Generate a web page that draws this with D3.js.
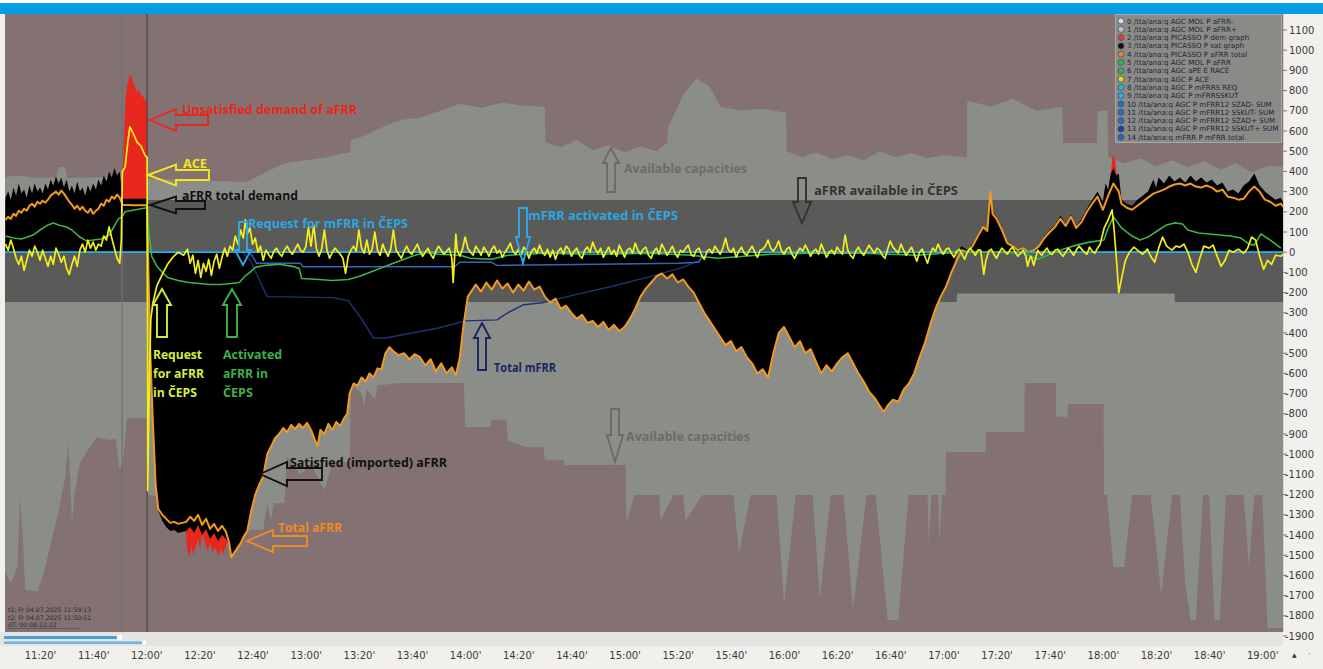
<!DOCTYPE html>
<html><head><meta charset="utf-8">
<script src="https://cdn.jsdelivr.net/npm/d3@7"></script>
<style>html,body{margin:0;padding:0;background:#f1f0ec;}svg{display:block;}</style>
</head><body>
<svg id="chart" width="1323" height="669"></svg>
<script>
// ---------------- DATA (time = minutes after 11:00, 04.07.2025) ----------------
const xTickLabels = ["11:20","11:40","12:00","12:20","12:40","13:00","13:20","13:40","14:00","14:20","14:40","15:00","15:20","15:40","16:00","16:20","16:40","17:00","17:20","17:40","18:00","18:20","18:40","19:00"];
const yTickValues = [1100,1000,900,800,700,600,500,400,300,200,100,0,-100,-200,-300,-400,-500,-600,-700,-800,-900,-1000,-1100,-1200,-1300,-1400,-1500,-1600,-1700,-1800,-1900];
const cursorTimes = [50.9, 60.3];

// available capacities (upper / lower envelope)
const capacityUp = [[6.8,372],[12,380],[18,368],[26,368],[27,422],[29.5,422],[30.2,367],[45,372],[60.3,365],[80,355],[98,348],[105.5,400],[112,440],[120,455],[128,470],[134,490],[136.8,495],[137,555],[143,580],[149,620],[155.6,654],[163,665],[170.7,700],[178,735],[186,715],[194,740],[202,725],[210,720],[210.2,545],[216,520],[222,555],[228,505],[234,530],[240,495],[246,525],[252,500],[256,540],[256.5,620],[262,780],[267,860],[272,820],[276,720],[284,700],[292,710],[300.8,690],[301,500],[307,470],[312,495],[318,460],[324,480],[330,455],[336,500],[342,470],[348,490],[354,465],[360,480],[368.8,470],[369,750],[378,720],[386,760],[395,700],[404.8,720],[405,540],[417.8,540],[418,700],[421.8,700],[422,470],[428,440],[434,465],[440,425],[446,455],[452,420],[458,450],[464.4,410],[470,440],[476,395],[482,425],[488,425]];
const capacityDown = [[6.8,-1580],[9,-1640],[11.5,-1560],[12.5,-1212],[13.5,-1400],[14.4,-1672],[19,-1680],[21.1,-1600],[24,-1450],[27,-1280],[29.5,-1113],[30.5,-945],[31.3,-1100],[32,-1341],[33,-1200],[35,-1043],[38,-980],[41.5,-915],[46,-930],[48.5,-925],[50,-1078],[51.5,-1000],[52.8,-821],[60.3,-821],[60.4,-1200],[97,-1300],[98,-1375],[104,-1375],[105.5,-1243],[107,-1330],[108,-1243],[112,-1243],[113,-1013],[118,-1100],[122,-1050],[127,-1178],[130,-1040],[136.5,-1040],[137,-647],[141,-700],[142,-760],[143,-680],[146,-730],[147,-660],[155.6,-647],[179.5,-647],[180,-865],[189.5,-865],[190,-830],[195.5,-830],[196,-930],[203,-965],[209.5,-965],[210,-1030],[217,-1030],[217.4,-1053],[240.4,-1053],[240.7,-1341],[243.7,-1202],[253,-1202],[253.5,-1327],[258.4,-1202],[262,-1202],[263,-1327],[269.3,-1202],[281,-1202],[283,-1490],[287.4,-1202],[297.2,-1202],[300,-1737],[304.4,-1202],[310.8,-1202],[313.5,-1720],[317.6,-1202],[322.4,-1202],[326,-1771],[331,-1202],[334.5,-1202],[339,-1821],[343,-1821],[346.9,-1202],[354,-1202],[354.5,-1441],[355.5,-1202],[358,-1202],[358.5,-1426],[359.5,-1202],[360.8,-1202],[360.9,-989],[375.9,-989],[376,-890],[390.5,-890],[390.6,-647],[402.3,-647],[402.4,-815],[406.7,-815],[406.8,-751],[420.3,-751],[420.4,-1202],[421.5,-1202],[424,-1558],[428,-1558],[431,-1202],[438,-1202],[442,-1700],[446,-1202],[449,-1202],[451,-1640],[453,-1821],[455,-1821],[457.7,-1202],[460,-1202],[462,-1821],[464,-1821],[466.3,-1202],[473,-1202],[475,-1560],[477,-1202],[480,-1202],[482,-1860],[488,-1860]];
// aFRR available in CEPS band: [time, bottom, top]
const bandRows = [[6.8,-246,258],[365,-246,258],[365.1,-205,258],[447,-205,258],[447.1,-246,258],[488,-246,258]];

// PICASSO dem graph (unsatisfied demand, visible parts)
const demandSpike1200 = [[50.9,265],[51.4,500],[52.2,760],[52.9,830],[53.9,880],[54.5,870],[55,845],[55.8,820],[56.5,790],[57.3,805],[58,780],[58.8,770],[59.5,760],[60.3,740]];
const demandDip1220 = [[74.8,-1380],[75.5,-1480],[76.3,-1510],[77,-1450],[77.6,-1500],[78.5,-1460],[79.5,-1420],[80.3,-1470],[81,-1400],[82,-1430],[83,-1480],[84,-1440],[85,-1485],[86,-1460],[87,-1505],[88,-1470],[89,-1495],[90,-1450],[91,-1420],[91.8,-1460]];
const demandSpike1804 = [[423,390],[423.6,470],[424.2,480],[424.8,440],[425.2,380]];

// PICASSO sat graph (satisfied aFRR)
const satGraph = [[7,270],[8,300],[9,260],[10,320],[11,280],[12,340],[13,290],[14,310],[15,270],[16,330],[17,290],[18,340],[19,300],[20,320],[21,290],[22,340],[23,310],[24,360],[25,330],[26,375],[27,340],[28,370],[29,320],[30,360],[31,300],[32,330],[33,290],[34,350],[35,300],[36,320],[37,280],[38,330],[39,300],[40,340],[41,310],[42,360],[43,330],[44,380],[45,350],[46,400],[47,370],[48,415],[49,380],[50,400],[50.8,300],[51,265],[60.3,265],
[60.8,-100],[61.5,-500],[62.5,-850],[63.5,-1150],[64.5,-1280],[66,-1330],[67.5,-1360],[69,-1380],[70.5,-1375],[72,-1390],[73.5,-1385],[75,-1380],[76.5,-1360],[78,-1390],[79.5,-1350],[81,-1400],[82.5,-1370],[84,-1420],[85.5,-1390],[87,-1430],[88.5,-1400],[90,-1420],[91.2,-1450],[92,-1500],[93,-1480],
[94,-1470],[95.5,-1440],[97,-1400],[98,-1380],[99.5,-1280],[101,-1200],[102.5,-1150],[104,-1110],[105.5,-1000],[107,-960],[108.5,-920],[110,-900],[111.5,-870],[113,-890],[114.5,-855],[116,-875],[117.5,-850],[119,-870],[120.5,-845],[122,-880],[123.5,-930],[124.5,-960],[125.5,-880],[127,-900],[128.5,-850],[130,-880],[131.5,-840],[133,-860],[134.5,-820],[135.6,-800],[136.5,-700],[138,-650],[139.5,-660],[141,-620],[142.5,-640],[144,-600],[145.5,-620],[147,-575],[148.5,-580],[150,-500],[151.5,-470],[153,-490],[155,-510],[157,-500],[159,-530],[161,-505],[163,-520],[165,-560],[167,-530],[169,-590],[171,-550],[173,-600],[175,-570],[176.5,-610],[178,-520],[179.5,-350],[181,-220],[182.5,-190],[184,-160],[186,-195],[188,-150],[190,-185],[192,-140],[194,-180],[196,-155],[198,-200],[200,-160],[202,-190],[204,-145],[206,-185],[208,-170],[210,-220],[212,-250],[214,-230],[216,-280],[218,-265],[220,-300],[222,-330],[224,-310],[226,-350],[228,-340],[230,-370],[232,-345],[234,-385],[236,-360],[238,-390],[240,-370],[242,-330],[244,-280],[246,-220],[248,-180],[250,-150],[252,-120],[254,-105],[256,-130],[258,-110],[260,-150],[262,-135],[264,-170],[266,-200],[268,-250],[270,-300],[272,-340],[274,-380],[276,-420],[278,-460],[280,-440],[282,-490],[284,-470],[286,-520],[288,-550],[290,-600],[292,-580],[294,-620],[296,-500],[298,-400],[300,-370],[302,-420],[304,-470],[306,-440],[308,-500],[310,-480],[312,-540],[314,-600],[316,-560],[318,-590],[320,-550],[322,-520],[324,-500],[326,-550],[328,-600],[330,-640],[332,-690],[334,-720],[336,-760],[337.5,-790],[339,-760],[341,-730],[343,-740],[345,-680],[347,-650],[349,-600],[351,-520],[353,-450],[355,-360],[357,-280],[359,-220],[361,-170],[363,-100],[364.5,-40],
[365,10],[367,30],[369,10],[371,40],[373,90],[375,130],[376.5,110],[377.7,310],[378.5,200],[380,175],[382,120],[384,50],[386,35],[388,15],[390,25],[392,5],[394,15],[396,35],[398,80],[400,110],[402,135],[404,180],[406,140],[408,185],[410,130],[412,165],[414,215],[416,260],[418,300],[420,250],[421,340],[422,310],[423,390],[424,415],[425,380],[426,390],[427,260],[429,240],[431,230],[433,260],[435,280],[437,300],[439,360],[440,320],[441,370],[443,340],[445,380],[447,350],[449,370],[451,345],[453,380],[455,350],[457,370],[459,345],[461,360],[463,330],[465,345],[467,300],[469,310],[471,290],[473,330],[475,350],[477,390],[479,330],[481,300],[483,280],[485,260],[487,270],[488,240]];

// PICASSO aFRR total
const aFRRTotal = [[7,160],[8,175],[9,165],[10,190],[11,180],[12,205],[13,195],[14,215],[15,205],[16,230],[17,240],[18,225],[19,250],[20,240],[21,255],[22,245],[23,260],[24,280],[25,290],[26,300],[27,285],[28,305],[29,290],[30,270],[31,250],[32,235],[33,215],[34,230],[35,210],[36,225],[37,205],[38,195],[39,215],[40,190],[41,205],[42,215],[43,240],[44,230],[45,260],[46,250],[47,275],[48,265],[49,285],[50,270],[51,235],[55,232],[60.3,233],
[60.8,-100],[61.5,-500],[62.5,-850],[63.5,-1150],[64.5,-1270],[66,-1300],[67.5,-1320],[69,-1340],[70.5,-1335],[72,-1345],[73.5,-1340],[75,-1335],[76.5,-1310],[78,-1330],[79.5,-1300],[81,-1350],[82.5,-1320],[84,-1370],[85.5,-1345],[87,-1380],[88.5,-1355],[90,-1385],[91.2,-1440],[92,-1510],[93,-1490],
[94,-1470],[95.5,-1440],[97,-1400],[98,-1380],[99.5,-1280],[101,-1200],[102.5,-1150],[104,-1110],[105.5,-1000],[107,-960],[108.5,-920],[110,-900],[111.5,-870],[113,-890],[114.5,-855],[116,-875],[117.5,-850],[119,-870],[120.5,-845],[122,-880],[123.5,-930],[124.5,-960],[125.5,-880],[127,-900],[128.5,-850],[130,-880],[131.5,-840],[133,-860],[134.5,-820],[135.6,-800],[136.5,-700],[138,-650],[139.5,-660],[141,-620],[142.5,-640],[144,-600],[145.5,-620],[147,-575],[148.5,-580],[150,-500],[151.5,-470],[153,-490],[155,-510],[157,-500],[159,-530],[161,-505],[163,-520],[165,-560],[167,-530],[169,-590],[171,-550],[173,-600],[175,-570],[176.5,-610],[178,-520],[179.5,-350],[181,-220],[182.5,-190],[184,-160],[186,-195],[188,-150],[190,-185],[192,-140],[194,-180],[196,-155],[198,-200],[200,-160],[202,-190],[204,-145],[206,-185],[208,-170],[210,-220],[212,-250],[214,-230],[216,-280],[218,-265],[220,-300],[222,-330],[224,-310],[226,-350],[228,-340],[230,-370],[232,-345],[234,-385],[236,-360],[238,-390],[240,-370],[242,-330],[244,-280],[246,-220],[248,-180],[250,-150],[252,-120],[254,-105],[256,-130],[258,-110],[260,-150],[262,-135],[264,-170],[266,-200],[268,-250],[270,-300],[272,-340],[274,-380],[276,-420],[278,-460],[280,-440],[282,-490],[284,-470],[286,-520],[288,-550],[290,-600],[292,-580],[294,-620],[296,-500],[298,-400],[300,-370],[302,-420],[304,-470],[306,-440],[308,-500],[310,-480],[312,-540],[314,-600],[316,-560],[318,-590],[320,-550],[322,-520],[324,-500],[326,-550],[328,-600],[330,-640],[332,-690],[334,-720],[336,-760],[337.5,-790],[339,-760],[341,-730],[343,-740],[345,-680],[347,-650],[349,-600],[351,-520],[353,-450],[355,-360],[357,-280],[359,-220],[361,-170],[363,-100],[365,-40],
[367,10],[369,0],[371,30],[373,80],[375,125],[376.5,105],[377.7,300],[378.5,190],[380,165],[382,110],[384,45],[386,30],[388,10],[390,20],[392,0],[394,10],[396,30],[398,70],[400,100],[402,125],[404,165],[406,130],[408,175],[410,120],[412,150],[414,200],[416,240],[418,275],[420,210],[422,280],[424,340],[426,300],[427,240],[429,220],[431,210],[433,230],[435,250],[437,270],[439,290],[441,300],[443,310],[445,325],[447,335],[449,340],[451,330],[453,340],[455,325],[457,320],[459,330],[461,320],[463,300],[465,310],[467,275],[469,270],[471,260],[473,265],[475,300],[477,325],[479,300],[481,260],[483,250],[485,230],[487,240],[488,225]];

// AGC MOL P aFRR (activated aFRR in CEPS)
const aFRRActivated = [[7,80],[10,70],[13,65],[17.4,85],[20,110],[23,135],[25,145],[27,135],[30,125],[32,110],[35,75],[37.7,55],[40,60],[43,65],[46,85],[48,130],[49.5,165],[50.9,175],[52,200],[58,215],[60.3,220],[61,100],[62,-20],[64,-70],[66,-100],[68,-125],[72,-140],[76,-150],[80,-155],[84,-160],[88,-160],[92,-155],[95,-150],[97,-120],[99,-100],[101,-75],[105,-65],[110,-60],[115,-70],[117.5,-80],[118.5,-130],[125,-135],[130,-140],[136,-135],[140,-120],[145,-95],[149,-75],[155,-45],[160,-20],[165,0],[170,-10],[178,-15],[182,-30],[190,-35],[196,-15],[210,-5],[230,-10],[250,-5],[265,-15],[275,-30],[285,-20],[295,-10],[310,-5],[330,-5],[340,-10],[350,-15],[360,-5],[370,0],[380,0],[390,-5],[395.5,-35],[400,-10],[405,15],[410,35],[415,50],[420.4,60],[422,120],[424,175],[427,120],[431,80],[434,60],[437,75],[441,110],[444,135],[447,145],[450,140],[452,110],[456,95],[460,90],[464,85],[468,80],[472,70],[475,40],[477,35],[479.5,90],[483,60],[487,20]];

// AGC P ACE
const ace = [[7,40],[8,10],[9,60],[10,20],[11,-30],[12,-60],[13,-20],[14,-90],[15,-40],[16,10],[17,-20],[18,30],[19,0],[20,-40],[21,10],[22,-30],[23,-70],[24,-20],[25,-60],[26,20],[27,-10],[28,-50],[29,-20],[30,-80],[31,-110],[32,-60],[33,-20],[34,-70],[35,10],[36,40],[37,0],[38,60],[39,20],[40,50],[41,10],[42,40],[43,30],[44,80],[45,60],[46,125],[47,70],[48,20],[49,-30],[50,-55],[50.6,60],[51,400],[52,420],[53,540],[53.8,620],[55,590],[56.5,545],[58,525],[59.5,480],[60.3,470],[60.5,-1180],[61.2,-600],[61.7,-330],[62.5,-250],[64,-165],[66,-110],[68,-60],[70,-25],[72,0],[74,-15],[75.5,15],[76.5,-55],[77.5,-15],[78.5,-105],[79.5,-40],[80.5,-125],[81.5,-55],[82.5,-95],[83.5,-35],[84.5,-115],[85.5,-45],[86.5,-10],[87.5,-80],[88.5,-25],[89.5,20],[90.5,-20],[91.5,30],[92.5,10],[93.5,80],[94.5,40],[95.5,110],[96.5,70],[97.3,160],[98,90],[99,120],[100,40],[101,70],[102,0],[103,30],
[104,-40],[105,10],[106,-10],[107,-30],[108,5],[109,20],[110,-5],[111,-20],[112,10],[113,30],[114,5],[115,-10],[116,15],[117,40],[118,10],[119,0],[120,25],[121,120],[122,30],[123,135],[124,20],[125,-20],[126,15],[127,110],[128,10],[129,-30],[130,0],[131,20],[132,5],[133,-10],[134,-30],[135,-105],[136,-20],[137,10],[138,30],[139,5],[140,110],[141,20],[142,-5],[143,60],[144,-10],[145,15],[146,100],[147,10],[148,-15],[149,40],[150,5],[151,-20],[152,15],[153,110],[154,10],[155,-10],[156,-30],[157,5],[158,30],[159,0],[160,-10],[161,15],[162,40],[163,5],[164,-20],[165,0],[166,20],[167,-10],[168,-30],[169,5],[170,30],[171,10],[172,-10],[173,5],[174,20],[175,-30],[175.5,-150],[176.5,90],[177,10],[178,-20],[179,15],[180,75],[181,20],[182,0],[183,-15],[184,30],
[185,10],[186,-15],[187,25],[188,5],[189,-20],[190,15],[191,30],[192,-5],[193,10],[194,-25],[195,0],[196,20],[197,45],[198,5],[199,-10],[200,15],[201,-20],[202,25],[203,10],[204,-30],[205,5],[206,20],[207,-5],[208,35],[209,0],[210,-15],[211,15],[212,-25],[213,10],[214,-35],[215,5],[216,20],[217,-10],[218,30],[219,15],[220,-20],[221,5],[222,20],[223,-15],[224,-30],[225,10],[226,25],[227,0],[228,50],[229,15],[230,-5],[231,20],[232,-25],[233,0],[234,25],[235,-10],[236,10],[237,-20],[238,35],[239,5],[240,-25],[241,10],[242,20],[243,-5],[244,45],[245,10],[246,-10],[247,15],[248,25],[249,-15],[250,-30],[251,5],[252,20],[253,-10],[254,40],[255,15],[256,-15],[257,5],[258,30],[259,-5],[260,-25],[261,10],[262,0],[263,20],[264,35],[265,-10],[266,-20],[267,10],[268,20],[269,-15],[270,-35],[271,5],[272,15],[273,-5],[274,30],[275,10],[276,-10],[277,20],[278,70],[279,15],[280,0],[281,20],[282,-25],[283,5],[284,25],[285,-5],[286,-15],[287,10],[288,30],[289,0],[290,-25],[291,10],[292,15],[293,30],[294,60],[295,20],[296,5],[297,25],[298,55],[299,10],[300,-10],[301,15],[302,25],[303,-10],[304,-30],[305,0],[306,20],[307,5],[308,35],[309,10],[310,-20],[311,5],[312,15],[313,-10],[314,40],[315,10],[316,-25],[317,0],[318,10],[319,-10],[320,25],[321,5],[322,-10],[323,85],[324,10],[325,-15],[326,-30],[327,5],[328,25],[329,0],[330,-15],[331,10],[332,35],[333,15],[334,-5],[335,20],[336,10],[337,-15],[338,-30],[339,15],[340,55],[341,25],[342,10],[343,-5],[344,40],[345,10],[346,-15],[347,5],[348,25],[349,-10],[350,-45],[351,0],[352,15],[353,-20],[354,-55],[355,-10],[356,20],[357,5],[358,40],[359,10],
[360,-10],[361,15],[362,20],[363,-5],[364,-25],[365,5],[366,15],[367,-10],[368,-35],[369,0],[370,20],[371,5],[372,-15],[373,10],[374,10],[375.2,-110],[376,-40],[376.5,-20],[377,5],[378,15],[379,-10],[380,-30],[381,0],[382,20],[383,5],[384,-10],[385,10],[386,25],[387,0],[388,-20],[389,-5],[390,10],[391,-20],[391.7,-70],[392.5,-30],[393,-20],[394,-65],[395,-15],[395.5,10],[396,0],[397,-15],[398,5],[399,20],[400,-5],[401,-10],[402,10],[403,15],[404,-5],[405,-20],[406,0],[407,20],[408,5],[409,-15],[410,10],[411,30],[412,15],[413,0],[414,-10],[415,25],[416,5],[417,-5],[418,20],[419,40],
[420.5,120],[422,160],[423.5,210],[424.3,100],[425.2,-50],[426,-200],[427.2,-120],[428.5,-40],[430,0],[431.7,25],[433,10],[435,-10],[436.8,15],[438,-20],[439.5,-50],[441,20],[442.5,75],[444,30],[446,10],[447.5,30],[449,25],[450.5,40],[452,0],[453.5,-60],[455,-100],[456.5,-30],[458,30],[460,20],[461.5,35],[463,-20],[464.5,-70],[466,-40],[467.5,10],[469,0],[471,15],[473,-5],[474.5,20],[476,75],[477.5,60],[479,-20],[480.5,-85],[482,-40],[483.5,-60],[485,-15],[487,-20],[488,-10]];

// mFRR series
const mFRRRequest = [[6.8,0],[200,0],[488,0]];
const mFRRActivated = [[6.8,0],[98.6,0],[100,-20],[101.5,-55],[118,-55],[119,-72],[176,-72],[178,-50],[190,-50],[192,-65],[230,-60],[260,-55],[268,-50],[270,0],[488,0]];
const mFRRTotal = [[6.8,0],[96,0],[99,-40],[103,-150],[105.5,-220],[130,-225],[136,-240],[141,-330],[145.5,-425],[150,-425],[160,-400],[170,-375],[180,-340],[192,-335],[196,-300],[202,-260],[209,-250],[220,-215],[235,-170],[250,-120],[262,-75],[268,-40],[272,0],[488,0]];

const legendNames = ["0 /tta/ana:q AGC MOL P aFRR-","1 /tta/ana:q AGC MOL P aFRR+","2 /tta/ana:q PICASSO P dem graph","3 /tta/ana:q PICASSO P sat graph","4 /tta/ana:q PICASSO P aFRR total","5 /tta/ana:q AGC MOL P aFRR","6 /tta/ana:q AGC aPE E RACE","7 /tta/ana:q AGC P ACE","8 /tta/ana:q AGC P mFRRS REQ","9 /tta/ana:q AGC P mFRRSSKUT","10 /tta/ana:q AGC P mFRR12 SZAD- SUM","11 /tta/ana:q AGC P mFRR12 SSKUT- SUM","12 /tta/ana:q AGC P mFRR12 SZAD+ SUM","13 /tta/ana:q AGC P mFRR12 SSKUT+ SUM","14 /tta/ana:q mFRR P mFRR total"];
const stampLines = ["t1: Fr 04.07.2025 11:59:13","t2: Fr 04.07.2025 11:50:51","dT: 00:08:22.22"];

// ---------------- STYLES ----------------
const legendColors = ["#d6dde2","#b9c4cc","#e53a2c","#111111","#e08a30","#39b54a","#39b54a","#e6d820","#2bb3d6","#2bb3d6","#2b6cc4","#2b6cc4","#2b6cc4","#1f3f9a","#2b5fbf"];
const C = {bg:"#f1f0ec", brown:"#847272", cap:"#8b8d88", band:"#5a5a59", red:"#e8281e", black:"#000",
  orange:"#f29a1f", yellow:"#f3ee1c", green:"#3db34a", cyan:"#22aee3", blue:"#3566b5", navy:"#1c3578"};

// ---------------- CHART ----------------
const W = 1323, H = 669;
const P = {l:5, r:1283, t:14, b:632};
const base = new Date(2025, 6, 4, 11, 0, 0);
const T = m => new Date(base.getTime() + m * 60000);
const x = d3.scaleTime().domain([T(6.82), T(487.8)]).range([P.l, P.r]);
const y = d3.scaleLinear().domain([-1900, 1100]).range([636, 30]);
const X = d => x(T(d[0]));

const svg = d3.select("#chart");
svg.append("rect").attr("width", W).attr("height", H).attr("fill", C.bg);
svg.append("rect").attr("x",0).attr("y",0).attr("width",W).attr("height",3).attr("fill","#ffffff");
svg.append("rect").attr("x",0).attr("y",3).attr("width",W).attr("height",11).attr("fill","#009fe3");

const defs = svg.append("defs");
defs.append("clipPath").attr("id","plotclip").append("rect")
  .attr("x",P.l).attr("y",P.t).attr("width",P.r-P.l).attr("height",P.b-P.t);
const g = svg.append("g").attr("clip-path","url(#plotclip)");
g.append("rect").attr("x",P.l).attr("y",P.t).attr("width",P.r-P.l).attr("height",P.b-P.t).attr("fill",C.brown);

const areaFrom0 = d3.area().x(X).y0(y(0)).y1(d => y(d[1]));
g.append("path").datum(capacityUp).attr("d", areaFrom0).attr("fill", C.cap);
g.append("path").datum(capacityDown).attr("d", areaFrom0).attr("fill", C.cap);
const bandArea = d3.area().x(X).y0(d => y(d[1])).y1(d => y(d[2]));
g.append("path").datum(bandRows).attr("d", bandArea).attr("fill", C.band);

[demandSpike1200, demandDip1220, demandSpike1804].forEach(seg =>
  g.append("path").datum(seg).attr("d", areaFrom0).attr("fill", C.red));
g.append("path").datum(satGraph).attr("d", areaFrom0).attr("fill", C.black);

// cursors
g.selectAll("line.cursor").data(cursorTimes).join("line").attr("class","cursor")
  .attr("x1", d => x(T(d))).attr("x2", d => x(T(d))).attr("y1", P.t).attr("y2", P.b)
  .attr("stroke", (d,i) => i === 0 ? "#727272" : "#3a3a3a").attr("stroke-width", (d,i) => i === 0 ? 1.3 : 1);

const line = d3.line().x(X).y(d => y(d[1]));
const addLine = (data, color, w) => g.append("path").datum(data).attr("d", line)
  .attr("fill","none").attr("stroke", color).attr("stroke-width", w).attr("stroke-linejoin","round");
addLine(mFRRTotal, C.navy, 1.4);
addLine(mFRRActivated, C.blue, 1.4);
addLine(aFRRTotal, C.orange, 2);
addLine(mFRRRequest, C.cyan, 1.8);
addLine(aFRRActivated, C.green, 1.6);
addLine(ace, C.yellow, 1.7);

// ---------------- ANNOTATIONS ----------------
const ann = svg.append("g");
function leftArrow(tx, ty, hx, hh, bh, tail){return [[tx,ty],[hx,ty-hh],[hx,ty-bh],[tail,ty-bh],[tail,ty+bh],[hx,ty+bh],[hx,ty+hh]];}
function upArrow(cx, tip, hy, hw, bw, tail){return [[cx,tip],[cx+hw,hy],[cx+bw,hy],[cx+bw,tail],[cx-bw,tail],[cx-bw,hy],[cx-hw,hy]];}
function downArrow(cx, top, hy, hw, bw, tip){return [[cx-bw,top],[cx+bw,top],[cx+bw,hy],[cx+hw,hy],[cx,tip],[cx-hw,hy],[cx-bw,hy]];}
const arrows = [
  {p:leftArrow(150,120,176,11,5,208), c:"#e8261c"},
  {p:leftArrow(148,175,176,10.5,5,209), c:"#f3e81c"},
  {p:leftArrow(150,205,176,8.5,4,205), c:"#111"},
  {p:leftArrow(260,474,287,12,6,322), c:"#111"},
  {p:leftArrow(247,541,273,11,5,307), c:"#f08a24"},
  {p:upArrow(611,148,163,8,4,192), c:"#6b6b6b"},
  {p:upArrow(482,323,338,8,4,370), c:"#1a2560"},
  {p:upArrow(162,289,305,9,5,337), c:"#d9ec3a"},
  {p:upArrow(232,289,305,9,5,337), c:"#3cb04a"},
  {p:downArrow(243,222,250,8,4,265), c:"#2da7e1"},
  {p:downArrow(523,208,237,7,4,263), c:"#2da7e1"},
  {p:downArrow(802,178,202,9,4,223), c:"#333"},
  {p:downArrow(615,409,435,8,4,462), c:"#6b6b6b"}
];
ann.selectAll("path.arr").data(arrows).join("path").attr("class","arr")
  .attr("d", d => "M" + d.p.map(q => q.join(",")).join("L") + "Z")
  .attr("fill","none").attr("stroke", d => d.c).attr("stroke-width", 1.9).attr("stroke-linejoin","miter");

const labels = [
  {t:"Unsatisfied demand of aFRR", x:182, y:114, w:175, c:"#e8261c"},
  {t:"ACE", x:183, y:168, w:24, c:"#f3e81c"},
  {t:"aFRR total demand", x:182, y:200, w:116, c:"#111"},
  {t:"Request for mFRR in ČEPS", x:248, y:228, w:160, c:"#2da7e1"},
  {t:"mFRR activated in ČEPS", x:528, y:220, w:150, c:"#2da7e1"},
  {t:"Available capacities", x:624, y:173, w:123, c:"#6b6b6b"},
  {t:"aFRR available in ČEPS", x:814, y:195, w:144, c:"#333"},
  {t:"Available capacities", x:626, y:441, w:124, c:"#6b6b6b"},
  {t:"Total mFRR", x:494, y:372, w:62, c:"#1a2560"},
  {t:"Request", x:153, y:359, w:49, c:"#d9ec3a"},
  {t:"for aFRR", x:153, y:378, w:51, c:"#d9ec3a"},
  {t:"in ČEPS", x:153, y:397, w:44, c:"#d9ec3a"},
  {t:"Activated", x:223, y:359, w:59, c:"#3cb04a"},
  {t:"aFRR in", x:223, y:378, w:45, c:"#3cb04a"},
  {t:"ČEPS", x:223, y:397, w:30, c:"#3cb04a"},
  {t:"Satisfied (imported) aFRR", x:290, y:467, w:157, c:"#111"},
  {t:"Total aFRR", x:278, y:532, w:64, c:"#f08a24"}
];
ann.selectAll("text.lab").data(labels).join("text").attr("class","lab")
  .attr("x", d => d.x).attr("y", d => d.y).text(d => d.t)
  .attr("textLength", d => d.w).attr("lengthAdjust","spacingAndGlyphs")
  .attr("font-family","'Open Sans', 'Noto Sans', sans-serif").attr("font-weight",700)
  .attr("font-size", 13).attr("fill", d => d.c);

// ---------------- LEGEND ----------------
const lg = svg.append("g");
defs.append("clipPath").attr("id","legclip").append("rect").attr("x",1115).attr("y",14).attr("width",167).attr("height",129);
lg.append("rect").attr("x",1115.5).attr("y",14.5).attr("width",166).attr("height",128)
  .attr("fill","#8a8b86").attr("stroke","#a8a8a3").attr("stroke-width",1);
const lgRows = lg.append("g").attr("clip-path","url(#legclip)");
legendNames.forEach((nm, i) => {
  const yy = 21 + i * 8.3;
  lgRows.append("circle").attr("cx",1121).attr("cy",yy).attr("r",3).attr("fill",legendColors[i]).attr("stroke","#3c4a6a").attr("stroke-width",0.7);
  lgRows.append("text").attr("x",1127).attr("y",yy+2.5).text(nm)
    .attr("font-family","'DejaVu Sans', sans-serif").attr("font-size",7.1).attr("fill","#1e243c");
});

// ---------------- AXES ----------------
svg.append("rect").attr("x",P.r).attr("y",P.t).attr("width",W-P.r).attr("height",H-P.t).attr("fill","#f1f0ec");
svg.append("line").attr("x1",P.r+0.5).attr("x2",P.r+0.5).attr("y1",P.t).attr("y2",P.b).attr("stroke","#d6d5d0");
const yAxis = svg.append("g");
yAxis.selectAll("line").data(yTickValues).join("line")
  .attr("x1",P.r).attr("x2",P.r+4).attr("y1",d=>y(d)).attr("y2",d=>y(d)).attr("stroke","#777").attr("stroke-width",1);
yAxis.selectAll("text").data(yTickValues).join("text")
  .attr("x", d => d < 0 ? 1285 : 1289).attr("y", d => y(d)).attr("dy","0.35em").text(d => d < 0 ? "-" + Math.abs(d) : d)
  .attr("font-family","'DejaVu Sans', sans-serif").attr("font-size",10).attr("fill","#3a3a3a");

// bottom strip & scrollbars
svg.append("rect").attr("x",0).attr("y",P.b).attr("width",P.r).attr("height",14).attr("fill","#e4e4e1");
svg.append("rect").attr("x",4).attr("y",636).attr("width",113).attr("height",3).attr("fill","#4a9ede");
svg.append("rect").attr("x",117).attr("y",635).attr("width",5).attr("height",5).attr("fill","#ffffff");
svg.append("rect").attr("x",4).attr("y",641.5).attr("width",138).attr("height",2.5).attr("fill","#6cb2e6");
svg.append("rect").attr("x",142).attr("y",640.5).attr("width",4).attr("height",4).attr("fill","#ffffff");

const xTickDates = xTickLabels.map(s => { const [h, m] = s.split(":").map(Number); return new Date(2025, 6, 4, h, m, 0); });
const xAxis = d3.axisBottom(x).tickValues(xTickDates).tickSize(0).tickFormat(d3.timeFormat("%H:%M'"));
const xg = svg.append("g").attr("transform", `translate(0,${P.b + 14})`).call(xAxis);
xg.select(".domain").remove();
xg.selectAll("text").attr("font-family","'DejaVu Sans', sans-serif").attr("font-size",10).attr("fill","#3a3a3a").attr("dy","0.95em");

svg.append("text").attr("x",1292).attr("y",657).text("▲").attr("font-size",6).attr("fill","#333").attr("font-family","'DejaVu Sans', sans-serif");
svg.append("text").attr("x",1308).attr("y",657).text("·").attr("font-size",8).attr("fill","#777").attr("font-family","'DejaVu Sans', sans-serif");

// timestamp box
const st = svg.append("g");
stampLines.forEach((s, i) => st.append("text").attr("x",8).attr("y",612 + i*7.5).text(s)
  .attr("font-family","'DejaVu Sans', sans-serif").attr("font-size",6.2).attr("fill","#2a2a2a"));
st.append("line").attr("x1",7).attr("x2",80).attr("y1",628.5).attr("y2",628.5).attr("stroke","#444").attr("stroke-width",0.6);
</script>
</body></html>
